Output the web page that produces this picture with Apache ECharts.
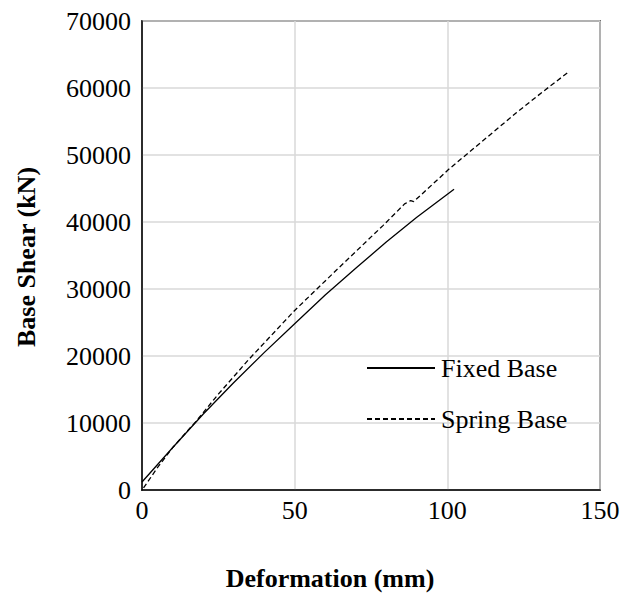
<!DOCTYPE html>
<html>
<head>
<meta charset="utf-8">
<script src="https://cdn.jsdelivr.net/npm/echarts@6/dist/echarts.min.js"></script>
<style>html,body{margin:0;padding:0;background:#fff}#c{width:637px;height:593px}</style>
</head>
<body>
<div id="c"></div>
<script>
const fixedX = [0, 10, 20, 30, 40, 50, 60, 70, 80, 90, 102.2];
const fixedY = [1200, 6300, 11300, 16000, 20500, 24800, 29100, 33100, 37000, 40700, 44900];
const springX = [0.5, 5, 10, 17.8, 25, 35, 50, 65, 79, 86, 88, 89, 100.8, 110, 122.6, 131.3, 140];
const springY = [300, 3300, 6300, 10300, 14300, 19500, 26800, 33400, 39500, 42700, 43200, 43050, 48000, 51500, 56300, 59450, 62500];
const xTicks = [0, 50, 100, 150];
const yTicks = [0, 10000, 20000, 30000, 40000, 50000, 60000, 70000];
const seriesNames = ['Fixed Base', 'Spring Base'];

const pair = (xs, ys) => xs.map((x, i) => [x, ys[i]]);
const font = '"Liberation Serif", "Times New Roman", serif';

const chart = echarts.init(document.getElementById('c'), null, {renderer: 'svg'});
chart.setOption({
  animation: false,
  backgroundColor: '#fff',
  textStyle: {fontFamily: font, color: '#000'},
  grid: {left: 142, right: 37, top: 21, bottom: 103, show: true, borderColor: '#000', borderWidth: 1.5, backgroundColor: 'transparent'},
  xAxis: {
    type: 'value', min: xTicks[0], max: xTicks[xTicks.length - 1], interval: 50,
    axisLine: {show: true, onZero: false, lineStyle: {color: '#000', width: 1.5}},
    axisTick: {show: false},
    splitLine: {show: true, lineStyle: {color: '#d9d9d9', width: 1.5}},
    axisLabel: {fontFamily: font, fontSize: 26, color: '#000', margin: 7, formatter: v => String(v)}
  },
  yAxis: {
    type: 'value', min: yTicks[0], max: yTicks[yTicks.length - 1], interval: 10000,
    axisLine: {show: true, lineStyle: {color: '#000', width: 1.5}},
    axisTick: {show: false},
    splitLine: {show: true, lineStyle: {color: '#d9d9d9', width: 1.5}},
    axisLabel: {fontFamily: font, fontSize: 26, color: '#000', margin: 11, formatter: v => String(v)}
  },
  legend: {
    orient: 'vertical', left: 361, top: 350, itemWidth: 68, itemHeight: 26, itemGap: 25,
    data: seriesNames,
    itemStyle: {opacity: 0},
    textStyle: {fontFamily: font, fontSize: 26, color: '#000', padding: [0, 0, 0, 1]}
  },
  graphic: [
    {type: 'text', x: 330, y: 578, style: {text: 'Deformation (mm)', font: 'bold 26px ' + font, fill: '#000', align: 'center', verticalAlign: 'middle'}},
    {type: 'text', x: 26, y: 257, rotation: Math.PI / 2, style: {text: 'Base Shear (kN)', font: 'bold 26px ' + font, fill: '#000', align: 'center', verticalAlign: 'middle'}}
  ],
  series: [
    {name: seriesNames[0], type: 'line', data: pair(fixedX, fixedY), symbol: 'none', smooth: false,
     lineStyle: {color: '#000', width: 1.3, type: 'solid'}, itemStyle: {color: '#000'}},
    {name: seriesNames[1], type: 'line', data: pair(springX, springY), symbol: 'none', smooth: false,
     lineStyle: {color: '#000', width: 1.3, type: [5, 3]}, itemStyle: {color: '#000'}}
  ]
});
</script>
</body>
</html>
